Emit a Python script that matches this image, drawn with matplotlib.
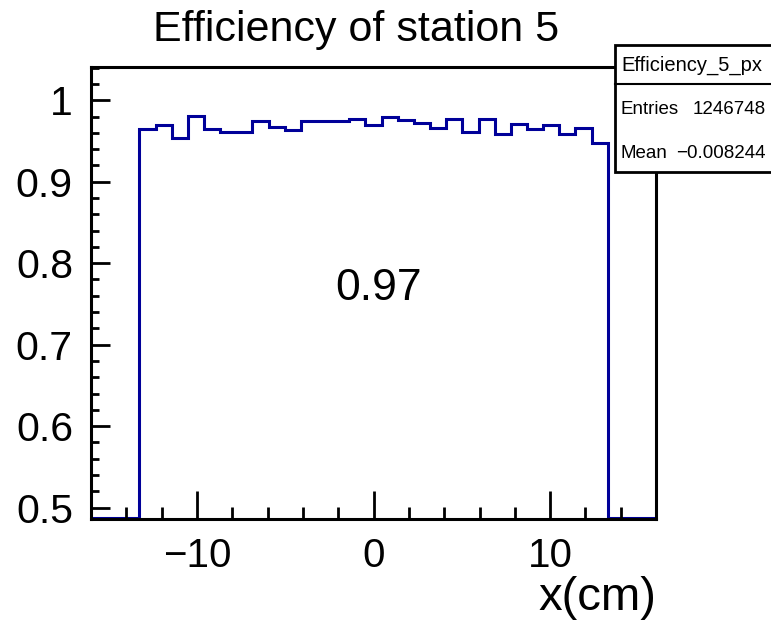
import numpy as np
import matplotlib
matplotlib.use("Agg")
import matplotlib.pyplot as plt
from matplotlib.patches import Rectangle
from matplotlib.ticker import MultipleLocator, FuncFormatter

# Histogram binning: 35 bins over [-16, 16] cm
x_low, x_high, n_bins = -16.0, 16.0, 35

# Per-bin efficiency (bins outside the active area are empty)
efficiency = [
    0.0, 0.0, 0.0,
    0.965, 0.970, 0.954, 0.981, 0.965, 0.961, 0.961, 0.975, 0.967, 0.964,
    0.975, 0.975, 0.975, 0.977, 0.969, 0.979, 0.976, 0.972, 0.966, 0.977,
    0.961, 0.977, 0.959, 0.971, 0.965, 0.970, 0.959, 0.966, 0.948,
    0.0, 0.0, 0.0,
]

title = "Efficiency of station 5"
hist_name = "Efficiency_5_px"
entries = "1246748"
mean_x = "\u22120.008244"
x_label = "x(cm)"

y_low, y_high = 0.486, 1.041

plt.rcParams["font.family"] = ["Liberation Sans", "DejaVu Sans"]

fig = plt.figure(figsize=(7.71, 6.22), dpi=100)
ax = fig.add_axes([0.118, 0.1656, 0.733, 0.727])

edges = np.linspace(x_low, x_high, n_bins + 1)
eff = np.array(efficiency)
# empty bins are drawn along the frame bottom
shown = np.maximum(eff, y_low + 0.0015)
ax.stairs(shown, edges, color="#000099", linewidth=2.2, baseline=None)

ax.set_xlim(x_low, x_high)
ax.set_ylim(y_low, y_high)

ax.xaxis.set_major_locator(MultipleLocator(10))
ax.xaxis.set_minor_locator(MultipleLocator(2))
ax.yaxis.set_major_locator(MultipleLocator(0.1))
ax.yaxis.set_minor_locator(MultipleLocator(0.02))
ax.yaxis.set_major_formatter(FuncFormatter(lambda v, p: f"{v:g}"))

ax.tick_params(axis="x", which="major", direction="in", length=20, width=2, labelsize=29, pad=13)
ax.tick_params(axis="x", which="minor", direction="in", length=8.5, width=2)
ax.tick_params(axis="y", which="major", direction="in", length=13.5, width=2, labelsize=29.5, pad=13)
ax.tick_params(axis="y", which="minor", direction="in", length=6, width=2)
for s in ax.spines.values():
    s.set_linewidth(2.2)

# mean efficiency over the active bins
active = eff[eff > 0]
ax.text(0.3, 0.769, f"{active.mean():.2f}", fontsize=32, ha="center", va="center")

fig.text(0.462, 0.952, title, fontsize=31, ha="center", va="center")
fig.text(656 / 771, 1 - 598 / 622, x_label, fontsize=34, ha="right", va="center")

# statistics box
W, H = 771, 622
def fx(px):
    return px / W
def fy(py):
    return 1 - py / H

box = Rectangle((fx(615), fy(172)), fx(800) - fx(615), fy(45) - fy(172),
                transform=fig.transFigure, facecolor="white", edgecolor="black",
                linewidth=2, zorder=5, clip_on=False)
fig.add_artist(box)
fig.add_artist(plt.Line2D([fx(615), fx(800)], [fy(84), fy(84)],
                          transform=fig.transFigure, color="black", linewidth=1.5, zorder=6))
fig.text(fx(621), fy(65), hist_name, fontsize=14.5, ha="left", va="center", zorder=7)
fig.text(fx(621), fy(110), "Entries", fontsize=13.5, ha="left", va="center", zorder=7)
fig.text(fx(766), fy(110), entries, fontsize=13.5, ha="right", va="center", zorder=7)
fig.text(fx(621), fy(153), "Mean", fontsize=13.5, ha="left", va="center", zorder=7)
fig.text(fx(766), fy(153), mean_x, fontsize=13.5, ha="right", va="center", zorder=7)

fig.savefig("out.png", dpi=100)
